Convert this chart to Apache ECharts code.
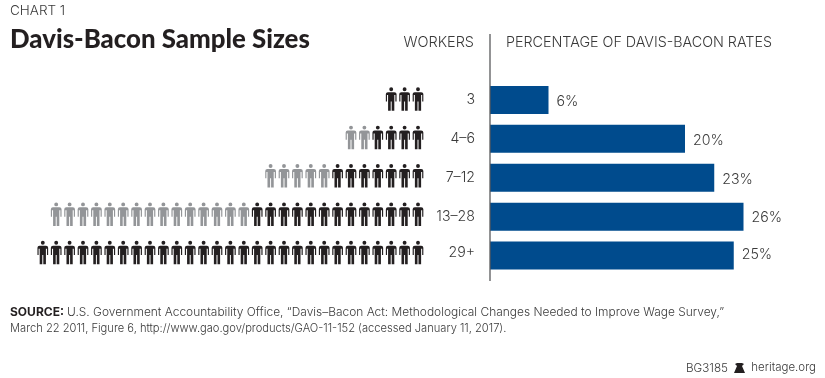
<!DOCTYPE html>
<html><head><meta charset="utf-8">
<style>html,body{margin:0;padding:0;background:#fff}#c{width:825px;height:378px}</style>
<script src="https://cdn.jsdelivr.net/npm/echarts@6/dist/echarts.min.js"></script>
</head><body><div id="c"></div>
<script>
const categories = ['3', '4–6', '7–12', '13–28', '29+'];
const percentages = [6, 20, 23, 26, 25];
const blackWorkers = [3, 4, 7, 13, 29];
const grayWorkers = [0, 2, 5, 15, 0];

const INK = '#231f20', TXT = '#3a3a3a', GRAY = '#939598', BLUE = '#004b8d';
const FONT = 'Inter, "Noto Sans", sans-serif';
const PERSON = 'path://M5.5 0a2 2 0 1 1 0 4a2 2 0 1 1 0-4zM2.2 5H8.8Q11 5 11 7V14.5H9.8V8H8.7V24H6V14.5H5V24H2.3V8H1.2V14.5H0V7Q0 5 2.2 5z';

const blackPts = [], grayPts = [];
categories.forEach((c, r) => {
  for (let i = 0; i < blackWorkers[r]; i++) blackPts.push([i + 0.5, c]);
  for (let i = 0; i < grayWorkers[r]; i++) grayPts.push([blackWorkers[r] + i + 0.5, c]);
});
const person = (name, color, data) => ({
  name, type: 'scatter', xAxisIndex: 1, yAxisIndex: 1, data,
  symbol: PERSON, symbolSize: [10.7, 23.5], itemStyle: { color, opacity: 1 }, silent: true, animation: false
});
const txt = (x, y, text, size, extra) => ({
  type: 'text', x, y, silent: true,
  style: Object.assign({ text, fontFamily: FONT, fontSize: size, fontWeight: 300, fill: TXT, verticalAlign: 'middle' }, extra || {})
});
const lastRow = categories.length - 1;
const labelStyle = { color: TXT, fontFamily: FONT, fontSize: 14.2, fontWeight: 300 };

const chart = echarts.init(document.getElementById('c'), null, { renderer: 'canvas' });
chart.setOption({
  animation: false,
  backgroundColor: '#fff',
  grid: [
    { left: 490, width: 312, top: 80.5, height: 194.5 },
    { left: 22.7, width: 402, top: 79.8, height: 192 }
  ],
  xAxis: [
    { type: 'value', gridIndex: 0, min: 0, max: 32, show: false },
    { type: 'value', gridIndex: 1, min: 0, max: 30, inverse: true, show: false }
  ],
  yAxis: [
    { type: 'category', gridIndex: 0, data: categories, inverse: true,
      axisLine: { show: false }, axisTick: { show: false },
      axisLabel: Object.assign({}, labelStyle, { margin: 15,
        formatter: (v, i) => i === lastRow ? `{up|${v}}` : v,
        rich: { up: Object.assign({}, labelStyle, { padding: [0, 0, 5, 0] }) } }) },
    { type: 'category', gridIndex: 1, data: categories, inverse: true, show: false }
  ],
  series: [
    { name: 'Percentage of Davis-Bacon rates', type: 'bar', barWidth: 28,
      data: percentages.map((v, i) => i === lastRow ? { value: v, label: { offset: [0, -0.5] } } : v),
      itemStyle: { color: BLUE }, silent: true,
      label: Object.assign({ show: true, position: 'right', distance: 8, offset: [0, 1.5], formatter: '{c}%' }, labelStyle) },
    person('Workers (gray)', GRAY, grayPts),
    person('Workers', INK, blackPts)
  ],
  graphic: [
    txt(10, 11, 'CHART 1', 13.5),
    txt(10, 40, 'Davis-Bacon Sample Sizes', 25.8, { fontFamily: 'Lato, sans-serif', fontWeight: 900, fill: INK }),
    txt(474, 43, 'WORKERS', 14.5, { align: 'right' }),
    txt(506, 43, 'PERCENTAGE OF DAVIS-BACON RATES', 14.3),
    { type: 'line', silent: true, shape: { x1: 490, y1: 34, x2: 490, y2: 281 }, style: { stroke: '#58595b', lineWidth: 1.3 }, z: 10 },
    txt(10, 312, 'SOURCE:', 12, { fontWeight: 700, fill: INK }),
    txt(67, 312, 'U.S. Government Accountability Office, “Davis–Bacon Act: Methodological Changes Needed to Improve Wage Survey,”', 11.95),
    txt(10, 329, 'March 22 2011, Figure 6, http://www.gao.gov/products/GAO-11-152 (accessed January 11, 2017).', 11.15),
    txt(728, 368, 'BG3185', 11.7, { align: 'right' }),
    { type: 'polygon', silent: true, shape: { points: [[735, 364], [737, 363], [742, 363], [744, 364], [742, 366], [745, 373], [734, 373], [737, 366]] }, style: { fill: INK } },
    txt(816, 368, 'heritage.org', 11.5, { align: 'right' })
  ]
});
</script></body></html>
